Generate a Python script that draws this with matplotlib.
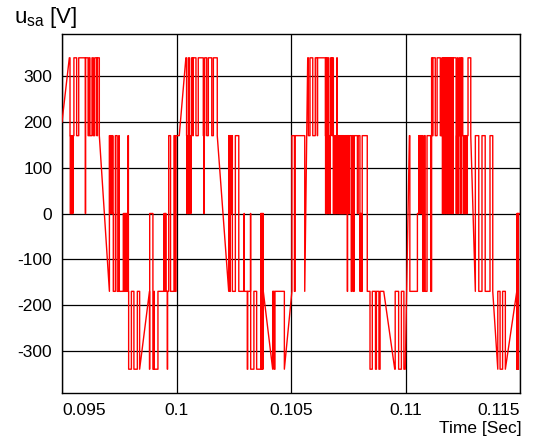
import matplotlib
matplotlib.use("Agg")
import matplotlib.pyplot as plt
import numpy as np

plt.rcParams['font.family'] = ['Liberation Sans', 'DejaVu Sans']
plt.rcParams['axes.unicode_minus'] = False

# phase voltage u_sa of the inverter, time in ms
# each entry: (time, value...) -> several values at one time give a vertical switching edge
cycle_1 = [
    (95.00, 200), (95.32, 340), (95.35, 340, 170),
    (95.36, 170, 0), (95.38, 0, 170), (95.39, 170, 0), (95.41, 0, 170), (95.43, 170, 0),
    (95.45, 0, 170), (95.47, 170, 0), (95.48, 0, 170),
    (95.52, 170, 340), (95.64, 340, 170), (95.73, 170, 340),
    (96.02, 340, 0), (96.03, 0, 340),
    (96.14, 340, 170), (96.19, 170, 340), (96.22, 340, 170),
    (96.31, 170, 340), (96.37, 340, 170), (96.43, 170, 340), (96.52, 340, 170),
    (96.55, 170, 340), (96.63, 340, 170),
    (97.07, -170, 170),
    (97.08, 170, 0), (97.10, 0, 170), (97.12, 170, 0), (97.14, 0, 170), (97.15, 170, 0),
    (97.17, 0, 170), (97.19, 170, 0), (97.21, 0, 170), (97.22, 170, 0),
    (97.24, 0, -170),
    (97.33, -170, 170), (97.41, 170, -170), (97.48, -170, 170), (97.50, 170, -170),
    (97.68, -170, 0), (97.69, 0, -170), (97.71, -170, 0), (97.73, 0, -170), (97.75, -170, 0),
    (97.77, 0, -170), (97.79, -170, 0), (97.82, 0, -170), (97.84, -170, 0), (97.86, 0, -170),
    (97.88, -170, 170), (97.90, 170, -170),
    (97.91, -170, -340), (98.03, -340, -170), (98.14, -170, -340), (98.29, -340, -170),
    (98.39, -170, -340),
    (98.82, -170, -340), (98.83, -340, 0), (98.97, 0, -340), (99.02, -340, -170),
    (99.03, -170, -340), (99.19, -340, -170),
    (99.45, -170, 0), (99.47, 0, -170), (99.49, -170, 0), (99.51, 0, -170), (99.52, -170, 0),
    (99.54, 0, -170),
    (99.60, -170, -340), (99.61, -340, -170),
    (99.66, -170, 170), (99.74, 170, -170), (99.89, -170, 170), (99.93, 170, -170),
    (99.98, -170, 170),
    (100.12, 170),
]

cycle_2 = [
    (100.41, 340), (100.44, 340, 170),
    (100.45, 170, 0), (100.46, 0, 170), (100.48, 170, 0), (100.49, 0, 170), (100.50, 170, 0),
    (100.52, 0, 340),
    (100.57, 340, 0), (100.58, 0, 170), (100.59, 170, 0), (100.61, 0, 170), (100.62, 170, 0),
    (100.63, 0, 170),
    (100.66, 170, 340), (100.71, 340, 170), (100.73, 170, 340), (100.85, 340, 170),
    (100.95, 170, 340),
    (101.17, 340, 170), (101.19, 170, 0), (101.21, 0, 170), (101.23, 170, 340),
    (101.32, 340, 170), (101.39, 170, 340), (101.54, 340, 170), (101.61, 170, 340),
    (101.78, 340, 170),
    (102.28, -170, 170),
    (102.30, 170, 0), (102.31, 0, 170), (102.33, 170, -170), (102.35, -170, 170),
    (102.37, 170, 0), (102.38, 0, 170), (102.40, 170, 0), (102.42, 0, 170), (102.44, 170, -170),
    (102.57, -170, 170), (102.72, 170, -170),
    (102.95, -170, 0), (102.96, 0, -170), (103.09, -170, -340), (103.11, -340, -170),
    (103.23, -170, 0), (103.24, 0, -340),
    (103.38, -340, -170), (103.50, -170, -340),
    (103.68, -340, 0), (103.69, 0, -340), (103.71, -340, 0), (103.72, 0, -340), (103.74, -340, 0),
    (103.76, 0, -340), (103.78, -340, 0), (103.79, 0, -170),
    (104.20, -340, -170), (104.26, -170, -340), (104.30, -340, -170), (104.71, -170, -340),
    (105.04, -170, 170), (105.15, 170, -170), (105.18, -170, 170), (105.60, 170, -170),
    (105.73, 340),
]

cycle_3 = [
    (105.76, 340, 170), (105.83, 170, 340), (105.95, 340, 170), (106.06, 170, 340),
    (106.15, 340, 170), (106.16, 170, 340),
    (106.50, 340, 170),
    (106.51, 170, 0), (106.52, 0, 170), (106.53, 170, 0), (106.54, 0, 340), (106.55, 340, 0),
    (106.56, 0, 170), (106.57, 170, 0), (106.59, 0, 340),
    (106.65, 340, 0), (106.66, 0, 170), (106.67, 170, 0), (106.68, 0, 170), (106.70, 170, 0),
    (106.71, 0, 170), (106.73, 170, 340),
    (106.79, 340, 170), (106.80, 170, 340),
    (106.85, 340, 0), (106.86, 0, 170), (106.88, 170, 0), (106.89, 0, 170), (106.91, 170, 0),
    (106.92, 0, 170), (106.94, 170, 0), (106.95, 0, 170), (106.97, 170, 0), (106.98, 0, 170),
    (107.00, 170, 340), (107.02, 340, 0),
    (107.04, 0, 170), (107.07, 170, 0), (107.08, 0, 170),
    (107.11, 170, 0), (107.12, 0, 170), (107.13, 170, 0), (107.14, 0, 170), (107.15, 170, 0),
    (107.16, 0, 170), (107.17, 170, 0), (107.18, 0, 170), (107.19, 170, 0), (107.20, 0, 170),
    (107.21, 170, 0), (107.22, 0, 170), (107.23, 170, 0), (107.24, 0, 170), (107.25, 170, 0),
    (107.26, 0, 170), (107.27, 170, 0), (107.28, 0, 170), (107.29, 170, 0), (107.30, 0, 170),
    (107.31, 170, 0), (107.33, 0, 170), (107.34, 170, 0), (107.36, 0, 170), (107.37, 170, 0),
    (107.39, 0, 170), (107.40, 170, 0), (107.42, 0, 170),
    (107.46, 170, -170), (107.47, -170, 170), (107.53, 170, 0), (107.55, 0, 170),
    (107.63, 170, -170), (107.67, -170, 170), (107.73, 170, -170), (107.76, -170, 170),
    (107.90, 170, 0), (107.93, 0, 170), (108.01, 170, -170), (108.03, -170, 0),
    (108.08, 0, -170), (108.11, -170, 170), (108.33, 170, -170),
    (108.45, -170, -340), (108.55, -340, -170), (108.69, -170, -340), (108.73, -340, -170),
    (108.84, -170, -340), (108.89, -340, -170), (109.05, -170),
    (109.53, -340), (109.55, -340, -170), (109.70, -170, -340), (109.82, -340, -170),
    (109.93, -170, -340), (109.99, -340),
]

cycle_4 = [
    (110.17, 170), (110.19, 170, -170), (110.52, -170, 0), (110.58, 0, 170),
    (110.59, 170, 0), (110.60, 0, 170), (110.62, 170, 0), (110.63, 0, 170), (110.65, 170, 0),
    (110.66, 0, 170), (110.68, 170, 0), (110.69, 0, 170), (110.71, 170, 0), (110.72, 0, 170),
    (110.75, 170, -170), (110.81, -170, 170), (110.86, 170, -170), (110.94, -170, 170),
    (111.10, 170, -170),
    (111.14, -170, 340), (111.17, 340, 170), (111.20, 170, 340), (111.30, 340, 170),
    (111.38, 170, 340), (111.52, 340, 170), (111.59, 170, 340),
    (111.61, 340, 0), (111.63, 0, 340), (111.65, 340, 170), (111.67, 170, 0), (111.69, 0, 340),
    (111.71, 340, 0), (111.73, 0, 340), (111.75, 340, 170), (111.77, 170, 0), (111.79, 0, 340),
    (111.81, 340, 0), (111.83, 0, 340), (111.85, 340, 170), (111.87, 170, 0), (111.89, 0, 340),
    (111.91, 340, 0), (111.93, 0, 170), (111.95, 170, 340), (111.97, 340, 0), (111.99, 0, 340),
    (112.01, 340, 170), (112.03, 170, 0), (112.05, 0, 340),
    (112.07, 340, 0), (112.08, 0, 340),
    (112.21, 340, 0), (112.23, 0, 170), (112.25, 170, 0), (112.27, 0, 340),
    (112.29, 340, 170), (112.31, 170, 0), (112.33, 0, 170), (112.35, 170, 340),
    (112.41, 340, 0), (112.43, 0, 170), (112.45, 170, 340),
    (112.50, 340, 170),
    (112.52, 170, 0), (112.54, 0, 170), (112.56, 170, 0), (112.58, 0, 170), (112.60, 170, 0),
    (112.62, 0, 170), (112.64, 170, 0), (112.66, 0, 170), (112.68, 170, 0), (112.70, 0, 170),
    (112.73, 170, 340), (112.85, 340, 170),
    (113.05, -170, 170), (113.20, 170, -170), (113.34, -170, 170), (113.48, 170, -170),
    (113.69, -170, 170), (113.81, 170, -170),
    (114.03, -340, -170), (114.13, -170, -340), (114.24, -340, -170), (114.36, -170, -340),
    (114.86, -170, -340), (114.87, -340, 0), (114.88, 0, -340), (114.89, -340, 0),
    (114.90, 0, -340), (114.91, -340, 0), (114.92, 0, -340), (114.93, -340, 0),
    (115.00, 0),
]

x_ticks = [0.095, 0.1, 0.105, 0.11, 0.115]
x_tick_labels = ['0.095', '0.1', '0.105', '0.11', '0.115']
y_ticks = [-300, -200, -100, 0, 100, 200, 300]


def build_path(events):
    t, u = [], []
    for ev in events:
        for v in ev[1:]:
            t.append(ev[0])
            u.append(v)
    return np.array(t) / 1000.0, np.array(u)


t_s, u_sa = build_path(cycle_1 + cycle_2 + cycle_3 + cycle_4)

fig = plt.figure(figsize=(5.52, 4.41), dpi=100)
ax = fig.add_axes([62 / 552, 1 - 393 / 441, (520 - 62) / 552, (393 - 34) / 441])

ax.plot(t_s, u_sa, color='#ff0000', lw=1.0, zorder=3)

ax.set_xlim(0.095, 0.115)
ax.set_ylim(-392, 392)
ax.set_xticks(x_ticks)
ax.set_xticklabels(x_tick_labels)
ax.set_yticks(y_ticks)
ax.grid(True, color='black', lw=0.9)
ax.tick_params(direction='in', length=0, labelsize=12.5, pad=7)
labels = ax.get_xticklabels()
labels[0].set_horizontalalignment('left')
labels[-1].set_horizontalalignment('right')
for sp in ax.spines.values():
    sp.set_linewidth(1.0)

fig.text(14 / 552, 1 - 18 / 441, r'$\mathregular{u_{sa}}$ [V]', fontsize=16,
         ha='left', va='center')
fig.text(522 / 552, 1 - 428 / 441, 'Time [Sec]', fontsize=12.5, ha='right', va='center')

fig.savefig('out.png', dpi=100)
